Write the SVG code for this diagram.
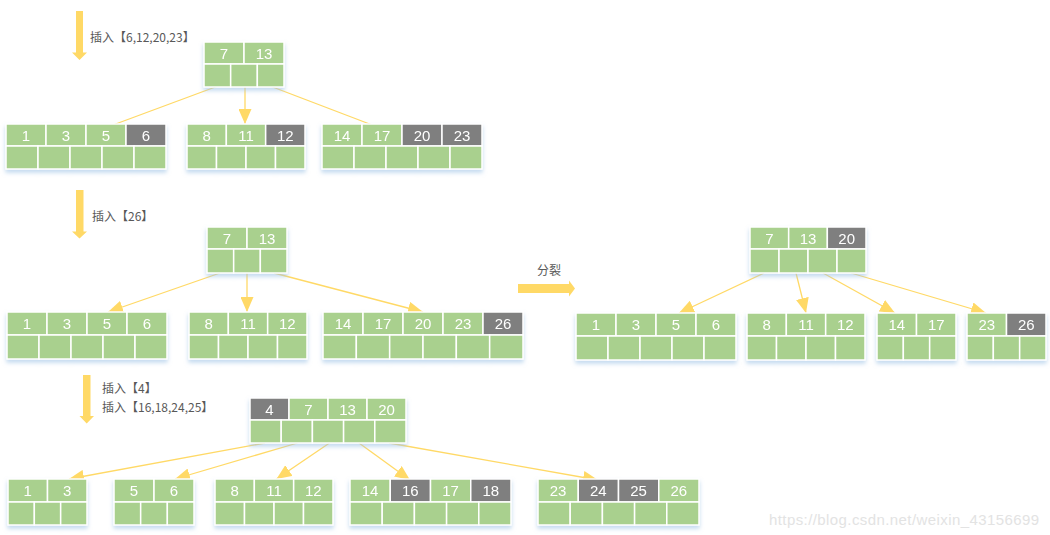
<svg xmlns="http://www.w3.org/2000/svg" width="1050" height="535" viewBox="0 0 1050 535">
<style>
.k{fill:#a9d08e;stroke:#fff;stroke-width:1.5}
.g{fill:#7f7f7f;stroke:#fff;stroke-width:1.5}
.t{font-family:"Liberation Sans",Arial,sans-serif;font-size:15px;fill:#fff;text-anchor:middle}
.lbl{font-family:"Noto Sans CJK SC","Noto Sans",sans-serif;font-size:12px;fill:#595959}
.c{stroke:#ffd966;stroke-width:1.3;fill:none;marker-end:url(#ah)}
.big{fill:#ffd966}
.node{filter:url(#sh)}
</style>
<defs>
<marker id="ah" markerUnits="userSpaceOnUse" markerWidth="15" markerHeight="13" refX="15" refY="6.5" orient="auto" viewBox="0 0 15 13">
<path d="M0,0 L15,6.5 L0,13 z" fill="#ffd966"/>
</marker>
<filter id="sh" x="-10%" y="-20%" width="120%" height="150%">
<feDropShadow dx="0" dy="3" stdDeviation="2" flood-color="#9dc3e6" flood-opacity="0.6"/>
</filter>
</defs>
<rect width="1050" height="535" fill="#fff"/>

<g id="labels">
<polygon class="big" points="76,11 83,11 83,52.5 87,52.5 79.5,60 72,52.5 76,52.5"/>
<text class="lbl" x="90" y="42">插入【6,12,20,23】</text>
<polygon class="big" points="76,190 83.5,190 83.5,231.5 87,231.5 79.5,238.5 72,231.5 76,231.5"/>
<text class="lbl" x="92" y="221">插入【26】</text>
<polygon class="big" points="83,375 90.5,375 90.5,416 94,416 86.7,423.5 79.5,416 83,416"/>
<text class="lbl" x="102" y="393">插入【4】</text>
<text class="lbl" x="102" y="412">插入【16,18,24,25】</text>
<polygon class="big" points="518,284 569,284 569,280.5 575,288.5 569,296.5 569,293 518,293"/>
<text class="lbl" x="537" y="275">分裂</text>
<text x="769" y="525" textLength="270" style="font-family:'Liberation Sans',Arial,sans-serif;font-size:15px;fill:#e3e3e3">https://blog.csdn.net/weixin_43156699</text>
</g>

<g id="connectors">
<line class="c" x1="218" y1="86" x2="86" y2="135"/>
<line class="c" x1="245" y1="86" x2="245" y2="124"/>
<line class="c" x1="270" y1="86" x2="401" y2="136"/>
<line class="c" x1="220" y1="273" x2="108" y2="312"/>
<line class="c" x1="247" y1="273" x2="247" y2="312"/>
<line class="c" x1="274" y1="273" x2="423" y2="312"/>
<line class="c" x1="764" y1="273" x2="679" y2="313"/>
<line class="c" x1="796" y1="273" x2="806" y2="313"/>
<line class="c" x1="823" y1="273" x2="895" y2="313"/>
<line class="c" x1="851" y1="273" x2="986" y2="313"/>
<line class="c" x1="265" y1="443" x2="69" y2="479"/>
<line class="c" x1="297.5" y1="443" x2="175" y2="479"/>
<line class="c" x1="329.5" y1="443" x2="276.5" y2="479"/>
<line class="c" x1="359" y1="443" x2="410" y2="480"/>
<line class="c" x1="389" y1="443" x2="598" y2="480"/>
</g>

<!-- Section 1 -->
<g id="r1" class="node" transform="translate(204,42)">
<rect class="k" x="0" y="0" width="40" height="22"/><rect class="k" x="40" y="0" width="40" height="22"/>
<rect class="k" x="0" y="22" width="26.67" height="23"/><rect class="k" x="26.67" y="22" width="26.67" height="23"/><rect class="k" x="53.33" y="22" width="26.67" height="23"/>
<text class="t" x="20" y="16.5">7</text><text class="t" x="60" y="16.5">13</text>
</g>
<g id="l1a" class="node" transform="translate(6,124)">
<rect class="k" x="0" y="0" width="40" height="22"/><rect class="k" x="40" y="0" width="40" height="22"/><rect class="k" x="80" y="0" width="40" height="22"/><rect class="g" x="120" y="0" width="40" height="22"/>
<rect class="k" x="0" y="22" width="32" height="23"/><rect class="k" x="32" y="22" width="32" height="23"/><rect class="k" x="64" y="22" width="32" height="23"/><rect class="k" x="96" y="22" width="32" height="23"/><rect class="k" x="128" y="22" width="32" height="23"/>
<text class="t" x="20" y="16.5">1</text><text class="t" x="60" y="16.5">3</text><text class="t" x="100" y="16.5">5</text><text class="t" x="140" y="16.5">6</text>
</g>
<g id="l1b" class="node" transform="translate(187,124)">
<rect class="k" x="0" y="0" width="39.33" height="22"/><rect class="k" x="39.33" y="0" width="39.33" height="22"/><rect class="g" x="78.67" y="0" width="39.33" height="22"/>
<rect class="k" x="0" y="22" width="29.5" height="23"/><rect class="k" x="29.5" y="22" width="29.5" height="23"/><rect class="k" x="59" y="22" width="29.5" height="23"/><rect class="k" x="88.5" y="22" width="29.5" height="23"/>
<text class="t" x="19.67" y="16.5">8</text><text class="t" x="59" y="16.5">11</text><text class="t" x="98.33" y="16.5">12</text>
</g>
<g id="l1c" class="node" transform="translate(322,124)">
<rect class="k" x="0" y="0" width="40" height="22"/><rect class="k" x="40" y="0" width="40" height="22"/><rect class="g" x="80" y="0" width="40" height="22"/><rect class="g" x="120" y="0" width="40" height="22"/>
<rect class="k" x="0" y="22" width="32" height="23"/><rect class="k" x="32" y="22" width="32" height="23"/><rect class="k" x="64" y="22" width="32" height="23"/><rect class="k" x="96" y="22" width="32" height="23"/><rect class="k" x="128" y="22" width="32" height="23"/>
<text class="t" x="20" y="16.5">14</text><text class="t" x="60" y="16.5">17</text><text class="t" x="100" y="16.5">20</text><text class="t" x="140" y="16.5">23</text>
</g>

<!-- Section 2 -->
<g id="r2" class="node" transform="translate(207,227)">
<rect class="k" x="0" y="0" width="40" height="22"/><rect class="k" x="40" y="0" width="40" height="22"/>
<rect class="k" x="0" y="22" width="26.67" height="24"/><rect class="k" x="26.67" y="22" width="26.67" height="24"/><rect class="k" x="53.33" y="22" width="26.67" height="24"/>
<text class="t" x="20" y="16.5">7</text><text class="t" x="60" y="16.5">13</text>
</g>
<g id="l2a" class="node" transform="translate(7,312)">
<rect class="k" x="0" y="0" width="40" height="23"/><rect class="k" x="40" y="0" width="40" height="23"/><rect class="k" x="80" y="0" width="40" height="23"/><rect class="k" x="120" y="0" width="40" height="23"/>
<rect class="k" x="0" y="23" width="32" height="24"/><rect class="k" x="32" y="23" width="32" height="24"/><rect class="k" x="64" y="23" width="32" height="24"/><rect class="k" x="96" y="23" width="32" height="24"/><rect class="k" x="128" y="23" width="32" height="24"/>
<text class="t" x="20" y="17">1</text><text class="t" x="60" y="17">3</text><text class="t" x="100" y="17">5</text><text class="t" x="140" y="17">6</text>
</g>
<g id="l2b" class="node" transform="translate(189,312)">
<rect class="k" x="0" y="0" width="39.33" height="23"/><rect class="k" x="39.33" y="0" width="39.33" height="23"/><rect class="k" x="78.67" y="0" width="39.33" height="23"/>
<rect class="k" x="0" y="23" width="29.5" height="24"/><rect class="k" x="29.5" y="23" width="29.5" height="24"/><rect class="k" x="59" y="23" width="29.5" height="24"/><rect class="k" x="88.5" y="23" width="29.5" height="24"/>
<text class="t" x="19.67" y="17">8</text><text class="t" x="59" y="17">11</text><text class="t" x="98.33" y="17">12</text>
</g>
<g id="l2c" class="node" transform="translate(323,312)">
<rect class="k" x="0" y="0" width="40" height="23"/><rect class="k" x="40" y="0" width="40" height="23"/><rect class="k" x="80" y="0" width="40" height="23"/><rect class="k" x="120" y="0" width="40" height="23"/><rect class="g" x="160" y="0" width="40" height="23"/>
<rect class="k" x="0" y="23" width="33.33" height="24"/><rect class="k" x="33.33" y="23" width="33.33" height="24"/><rect class="k" x="66.67" y="23" width="33.33" height="24"/><rect class="k" x="100" y="23" width="33.33" height="24"/><rect class="k" x="133.33" y="23" width="33.33" height="24"/><rect class="k" x="166.67" y="23" width="33.33" height="24"/>
<text class="t" x="20" y="17">14</text><text class="t" x="60" y="17">17</text><text class="t" x="100" y="17">20</text><text class="t" x="140" y="17">23</text><text class="t" x="180" y="17">26</text>
</g>

<g id="r3" class="node" transform="translate(750,227)">
<rect class="k" x="0" y="0" width="38.67" height="22"/><rect class="k" x="38.67" y="0" width="38.67" height="22"/><rect class="g" x="77.33" y="0" width="38.67" height="22"/>
<rect class="k" x="0" y="22" width="29" height="24"/><rect class="k" x="29" y="22" width="29" height="24"/><rect class="k" x="58" y="22" width="29" height="24"/><rect class="k" x="87" y="22" width="29" height="24"/>
<text class="t" x="19.33" y="16.5">7</text><text class="t" x="58" y="16.5">13</text><text class="t" x="96.67" y="16.5">20</text>
</g>
<g id="l3a" class="node" transform="translate(576,313)">
<rect class="k" x="0" y="0" width="40" height="23"/><rect class="k" x="40" y="0" width="40" height="23"/><rect class="k" x="80" y="0" width="40" height="23"/><rect class="k" x="120" y="0" width="40" height="23"/>
<rect class="k" x="0" y="23" width="32" height="24"/><rect class="k" x="32" y="23" width="32" height="24"/><rect class="k" x="64" y="23" width="32" height="24"/><rect class="k" x="96" y="23" width="32" height="24"/><rect class="k" x="128" y="23" width="32" height="24"/>
<text class="t" x="20" y="17">1</text><text class="t" x="60" y="17">3</text><text class="t" x="100" y="17">5</text><text class="t" x="140" y="17">6</text>
</g>
<g id="l3b" class="node" transform="translate(747,313)">
<rect class="k" x="0" y="0" width="39.33" height="23"/><rect class="k" x="39.33" y="0" width="39.33" height="23"/><rect class="k" x="78.67" y="0" width="39.33" height="23"/>
<rect class="k" x="0" y="23" width="29.5" height="24"/><rect class="k" x="29.5" y="23" width="29.5" height="24"/><rect class="k" x="59" y="23" width="29.5" height="24"/><rect class="k" x="88.5" y="23" width="29.5" height="24"/>
<text class="t" x="19.67" y="17">8</text><text class="t" x="59" y="17">11</text><text class="t" x="98.33" y="17">12</text>
</g>
<g id="l3c" class="node" transform="translate(877,313)">
<rect class="k" x="0" y="0" width="39.5" height="23"/><rect class="k" x="39.5" y="0" width="39.5" height="23"/>
<rect class="k" x="0" y="23" width="26.33" height="24"/><rect class="k" x="26.33" y="23" width="26.33" height="24"/><rect class="k" x="52.67" y="23" width="26.33" height="24"/>
<text class="t" x="19.75" y="17">14</text><text class="t" x="59.25" y="17">17</text>
</g>
<g id="l3d" class="node" transform="translate(967,313)">
<rect class="k" x="0" y="0" width="39.5" height="23"/><rect class="g" x="39.5" y="0" width="39.5" height="23"/>
<rect class="k" x="0" y="23" width="26.33" height="24"/><rect class="k" x="26.33" y="23" width="26.33" height="24"/><rect class="k" x="52.67" y="23" width="26.33" height="24"/>
<text class="t" x="19.75" y="17">23</text><text class="t" x="59.25" y="17">26</text>
</g>

<!-- Section 3 -->
<g id="r4" class="node" transform="translate(250,398)">
<rect class="g" x="0" y="0" width="39" height="22"/><rect class="k" x="39" y="0" width="39" height="22"/><rect class="k" x="78" y="0" width="39" height="22"/><rect class="k" x="117" y="0" width="39" height="22"/>
<rect class="k" x="0" y="22" width="31.2" height="23"/><rect class="k" x="31.2" y="22" width="31.2" height="23"/><rect class="k" x="62.4" y="22" width="31.2" height="23"/><rect class="k" x="93.6" y="22" width="31.2" height="23"/><rect class="k" x="124.8" y="22" width="31.2" height="23"/>
<text class="t" x="19.5" y="16.5">4</text><text class="t" x="58.5" y="16.5">7</text><text class="t" x="97.5" y="16.5">13</text><text class="t" x="136.5" y="16.5">20</text>
</g>
<g id="l4a" class="node" transform="translate(8,479)">
<rect class="k" x="0" y="0" width="39.5" height="23"/><rect class="k" x="39.5" y="0" width="39.5" height="23"/>
<rect class="k" x="0" y="23" width="26.33" height="23"/><rect class="k" x="26.33" y="23" width="26.33" height="23"/><rect class="k" x="52.67" y="23" width="26.33" height="23"/>
<text class="t" x="19.75" y="17">1</text><text class="t" x="59.25" y="17">3</text>
</g>
<g id="l4b" class="node" transform="translate(114,479)">
<rect class="k" x="0" y="0" width="40" height="23"/><rect class="k" x="40" y="0" width="40" height="23"/>
<rect class="k" x="0" y="23" width="26.67" height="23"/><rect class="k" x="26.67" y="23" width="26.67" height="23"/><rect class="k" x="53.33" y="23" width="26.67" height="23"/>
<text class="t" x="20" y="17">5</text><text class="t" x="60" y="17">6</text>
</g>
<g id="l4c" class="node" transform="translate(215,479)">
<rect class="k" x="0" y="0" width="39.33" height="23"/><rect class="k" x="39.33" y="0" width="39.33" height="23"/><rect class="k" x="78.67" y="0" width="39.33" height="23"/>
<rect class="k" x="0" y="23" width="29.5" height="23"/><rect class="k" x="29.5" y="23" width="29.5" height="23"/><rect class="k" x="59" y="23" width="29.5" height="23"/><rect class="k" x="88.5" y="23" width="29.5" height="23"/>
<text class="t" x="19.67" y="17">8</text><text class="t" x="59" y="17">11</text><text class="t" x="98.33" y="17">12</text>
</g>
<g id="l4d" class="node" transform="translate(350,479)">
<rect class="k" x="0" y="0" width="40.25" height="23"/><rect class="g" x="40.25" y="0" width="40.25" height="23"/><rect class="k" x="80.5" y="0" width="40.25" height="23"/><rect class="g" x="120.75" y="0" width="40.25" height="23"/>
<rect class="k" x="0" y="23" width="32.2" height="23"/><rect class="k" x="32.2" y="23" width="32.2" height="23"/><rect class="k" x="64.4" y="23" width="32.2" height="23"/><rect class="k" x="96.6" y="23" width="32.2" height="23"/><rect class="k" x="128.8" y="23" width="32.2" height="23"/>
<text class="t" x="20.13" y="17">14</text><text class="t" x="60.38" y="17">16</text><text class="t" x="100.63" y="17">17</text><text class="t" x="140.88" y="17">18</text>
</g>
<g id="l4e" class="node" transform="translate(538,479)">
<rect class="k" x="0" y="0" width="40.25" height="23"/><rect class="g" x="40.25" y="0" width="40.25" height="23"/><rect class="g" x="80.5" y="0" width="40.25" height="23"/><rect class="k" x="120.75" y="0" width="40.25" height="23"/>
<rect class="k" x="0" y="23" width="32.2" height="23"/><rect class="k" x="32.2" y="23" width="32.2" height="23"/><rect class="k" x="64.4" y="23" width="32.2" height="23"/><rect class="k" x="96.6" y="23" width="32.2" height="23"/><rect class="k" x="128.8" y="23" width="32.2" height="23"/>
<text class="t" x="20.13" y="17">23</text><text class="t" x="60.38" y="17">24</text><text class="t" x="100.63" y="17">25</text><text class="t" x="140.88" y="17">26</text>
</g>
</svg>
